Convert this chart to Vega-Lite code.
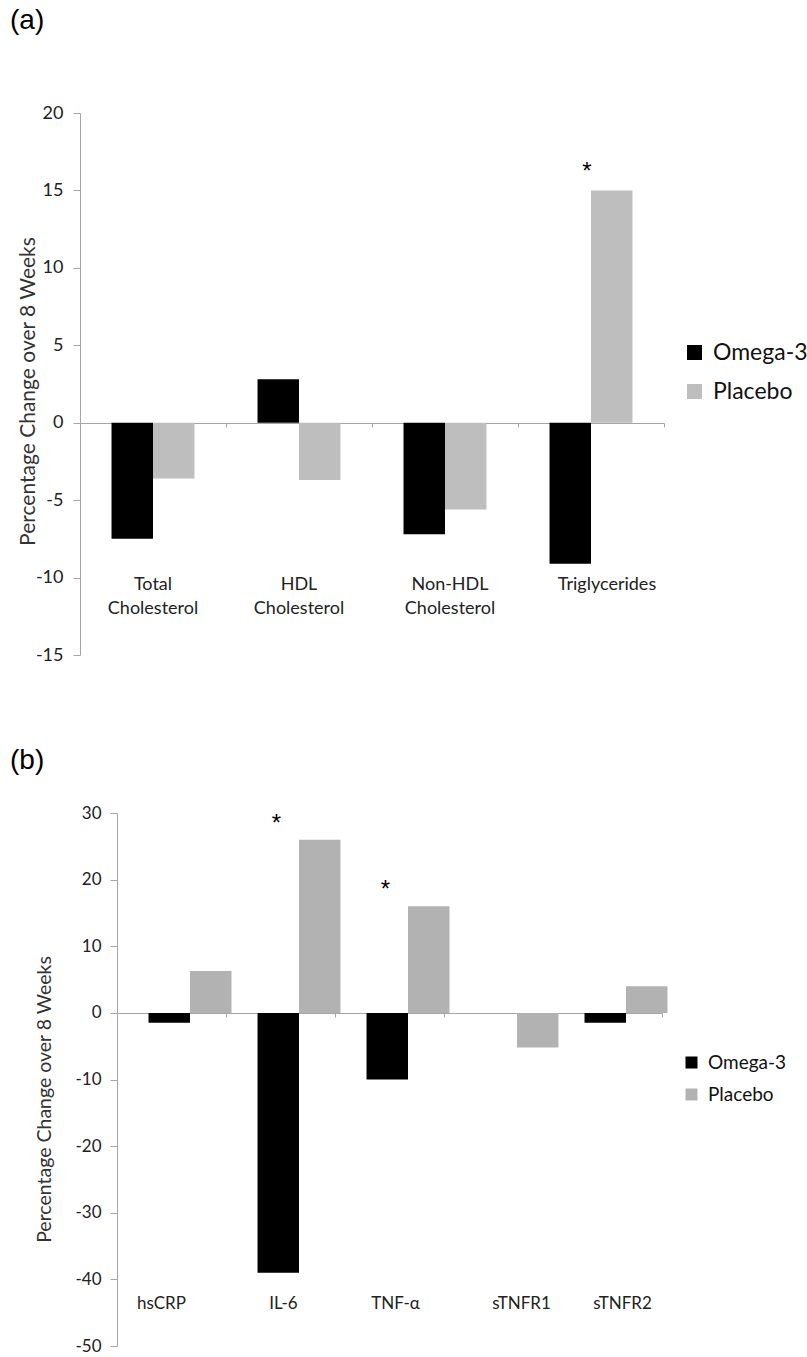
{
  "$schema": "https://vega.github.io/schema/vega-lite/v6.json",
  "background": "white",
  "padding": {"left": 10, "top": 7, "right": 0, "bottom": 0},
  "config": {"view": {"stroke": null}, "font": "Lato", "axis": {"grid": false}},
  "datasets": {
    "lipids": [
      {"marker": "Total Cholesterol", "group": "Omega-3", "value": -7.5, "sig": ""},
      {"marker": "Total Cholesterol", "group": "Placebo", "value": -3.6, "sig": ""},
      {"marker": "HDL Cholesterol", "group": "Omega-3", "value": 2.8, "sig": ""},
      {"marker": "HDL Cholesterol", "group": "Placebo", "value": -3.7, "sig": ""},
      {"marker": "Non-HDL Cholesterol", "group": "Omega-3", "value": -7.2, "sig": ""},
      {"marker": "Non-HDL Cholesterol", "group": "Placebo", "value": -5.6, "sig": ""},
      {"marker": "Triglycerides", "group": "Omega-3", "value": -9.1, "sig": ""},
      {"marker": "Triglycerides", "group": "Placebo", "value": 15.0, "sig": "*"}
    ],
    "inflam": [
      {"marker": "hsCRP", "group": "Omega-3", "value": -1.5, "sig": ""},
      {"marker": "hsCRP", "group": "Placebo", "value": 6.3, "sig": ""},
      {"marker": "IL-6", "group": "Omega-3", "value": -39.0, "sig": ""},
      {"marker": "IL-6", "group": "Placebo", "value": 26.0, "sig": "*"},
      {"marker": "TNF-α", "group": "Omega-3", "value": -10.0, "sig": ""},
      {"marker": "TNF-α", "group": "Placebo", "value": 16.0, "sig": "*"},
      {"marker": "sTNFR1", "group": "Omega-3", "value": 0.0, "sig": ""},
      {"marker": "sTNFR1", "group": "Placebo", "value": -5.2, "sig": ""},
      {"marker": "sTNFR2", "group": "Omega-3", "value": -1.5, "sig": ""},
      {"marker": "sTNFR2", "group": "Placebo", "value": 4.0, "sig": ""}
    ]
  },
  "spacing": 83,
  "resolve": {"scale": {"x": "independent", "y": "independent", "color": "independent"}, "legend": {"color": "independent"}},
  "vconcat": [
    {
      "width": 584,
      "height": 542,
      "title": {"text": "(a)", "anchor": "start", "frame": "group", "dx": -70, "offset": 69, "font": "Liberation Sans", "fontSize": 28, "fontWeight": "normal", "color": "#000000"},
      "data": {"name": "lipids"},
      "encoding": {
        "x": {
          "field": "marker", "type": "nominal",
          "sort": ["Total Cholesterol", "HDL Cholesterol", "Non-HDL Cholesterol", "Triglycerides"],
          "scale": {"paddingInner": 0, "paddingOuter": 0},
          "axis": {
            "orient": "bottom", "offset": -232, "title": null,
            "domainColor": "#A6A6A6", "tickColor": "#A6A6A6", "tickSize": 4,
            "bandPosition": 1, "tickExtra": true,
            "labelPadding": 148, "labelAngle": 0,
            "labelOffset": {"condition": [{"test": "datum.value == 'Triglycerides'", "value": 16}, {"test": "datum.value == 'Non-HDL Cholesterol'", "value": 5}], "value": 0},
            "labelExpr": "split(datum.label, ' ')",
            "labelFont": "Lato", "labelFontSize": 18, "labelLineHeight": 24, "labelColor": "#222222", "labelLimit": 0
          }
        },
        "y": {
          "field": "value", "type": "quantitative",
          "scale": {"domain": [-15, 20], "nice": false, "zero": false},
          "axis": {
            "values": [-15, -10, -5, 0, 5, 10, 15, 20],
            "labelExpr": "replace(datum.label, '\u2212', '-')",
            "title": "Percentage Change over 8 Weeks",
            "titleFont": "Lato", "titleFontSize": 21, "titleFontWeight": "normal", "titleColor": "#333333", "titleX": -42, "titleY": 278,
            "labelFont": "Lato", "labelFontSize": 18, "labelColor": "#222222", "labelPadding": 10,
            "tickSize": 7, "tickColor": "#A6A6A6", "domainColor": "#A6A6A6", "labelOverlap": false
          }
        }
      },
      "layer": [
        {
          "mark": {"type": "bar"},
          "encoding": {
            "xOffset": {"field": "group", "type": "nominal", "sort": ["Omega-3", "Placebo"], "scale": {"paddingInner": 0, "paddingOuter": 0.76}},
            "color": {
              "field": "group", "type": "nominal",
              "scale": {"domain": ["Omega-3", "Placebo"], "range": ["#000000", "#BEBEBE"]},
              "legend": {
                "title": null, "orient": "none", "legendX": 603, "legendY": 228,
                "symbolType": "square", "symbolSize": 225, "symbolStrokeWidth": 0,
                "labelFont": "Lato", "labelFontSize": 23, "labelColor": "#111111", "labelOffset": 7,
                "rowPadding": 15, "padding": 0
              }
            }
          }
        },
        {
          "transform": [{"filter": "datum.sig == '*'"}],
          "mark": {"type": "text", "dx": -4, "dy": -11, "baseline": "alphabetic", "fontSize": 24, "font": "Liberation Sans", "color": "#000000"},
          "encoding": {"text": {"field": "sig"}}
        }
      ]
    },
    {
      "width": 582,
      "height": 533,
      "title": {"text": "(b)", "anchor": "start", "frame": "group", "dx": -70, "offset": 29, "font": "Liberation Sans", "fontSize": 28, "fontWeight": "normal", "color": "#000000"},
      "data": {"name": "inflam"},
      "encoding": {
        "x": {
          "field": "marker", "type": "nominal",
          "sort": ["hsCRP", "IL-6", "TNF-α", "sTNFR1", "sTNFR2"],
          "scale": {"paddingInner": 0, "paddingOuter": 0, "range": [37, 582]},
          "axis": {
            "orient": "bottom", "offset": -333, "title": null,
            "domainColor": "#A6A6A6", "tickColor": "#A6A6A6", "tickSize": 4,
            "bandPosition": 1, "tickExtra": true,
            "labelPadding": 278, "labelAngle": 0,
            "labelOffset": {"condition": [{"test": "datum.value == 'hsCRP'", "value": -10}, {"test": "datum.value == 'IL-6'", "value": 3}, {"test": "datum.value == 'TNF-α'", "value": 6}, {"test": "datum.value == 'sTNFR1'", "value": 23}, {"test": "datum.value == 'sTNFR2'", "value": 15}], "value": 0},
            "labelFont": "Lato", "labelFontSize": 17, "labelColor": "#222222", "labelLimit": 0
          }
        },
        "y": {
          "field": "value", "type": "quantitative",
          "scale": {"domain": [-50, 30], "nice": false, "zero": false},
          "axis": {
            "offset": -37,
            "values": [-50, -40, -30, -20, -10, 0, 10, 20, 30],
            "labelExpr": "replace(datum.label, '\u2212', '-')",
            "title": "Percentage Change over 8 Weeks",
            "titleFont": "Lato", "titleFontSize": 19.5, "titleFontWeight": "normal", "titleColor": "#333333", "titlePadding": 20, "titleY": 286,
            "labelFont": "Lato", "labelFontSize": 17, "labelColor": "#222222", "labelPadding": 9,
            "tickSize": 7, "tickColor": "#A6A6A6", "domainColor": "#A6A6A6", "labelOverlap": false
          }
        }
      },
      "layer": [
        {
          "mark": {"type": "bar"},
          "encoding": {
            "xOffset": {"field": "group", "type": "nominal", "sort": ["Omega-3", "Placebo"], "scale": {"paddingInner": 0, "paddingOuter": 0.76}},
            "color": {
              "field": "group", "type": "nominal",
              "scale": {"domain": ["Omega-3", "Placebo"], "range": ["#000000", "#B2B2B2"]},
              "legend": {
                "title": null, "orient": "none", "legendX": 602, "legendY": 240,
                "symbolType": "square", "symbolSize": 144, "symbolStrokeWidth": 0,
                "labelFont": "Lato", "labelFontSize": 19, "labelColor": "#111111", "labelOffset": 7,
                "rowPadding": 12, "padding": 0
              }
            }
          }
        },
        {
          "transform": [{"filter": "datum.sig == '*'"}],
          "mark": {"type": "text", "dx": -4, "dy": -9, "baseline": "alphabetic", "fontSize": 24, "font": "Liberation Sans", "color": "#000000"},
          "encoding": {"text": {"field": "sig"}}
        }
      ]
    }
  ]
}
